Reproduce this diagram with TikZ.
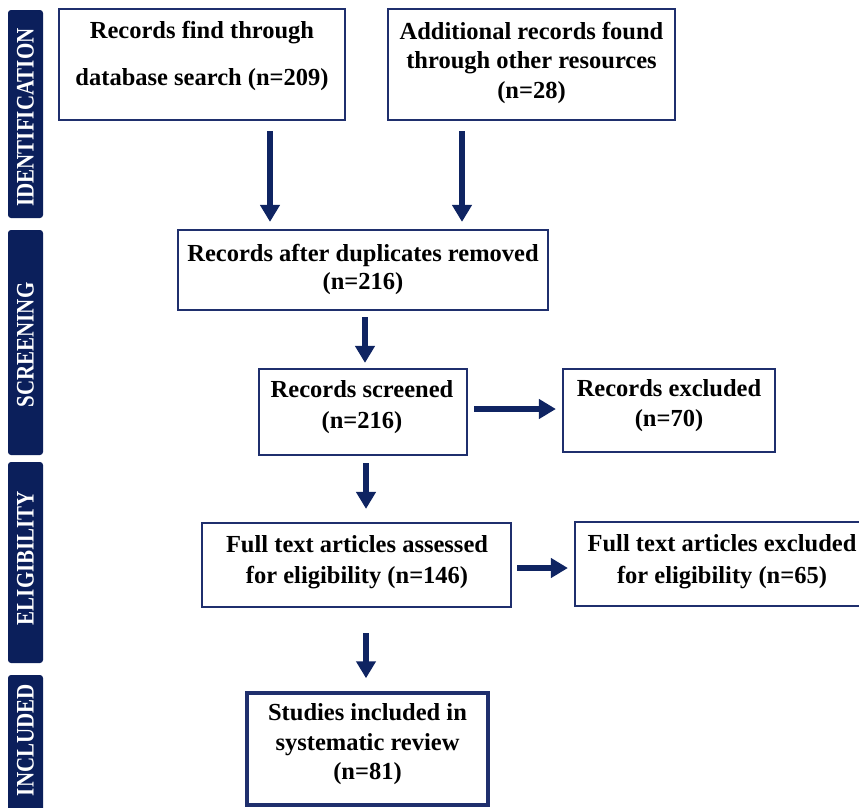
\documentclass[tikz,border=0pt]{standalone}
\usepackage{fontspec}
\setmainfont{Liberation Serif}
\usetikzlibrary{arrows.meta}
\definecolor{barblue}{HTML}{0B1F5B}
\definecolor{boxblue}{HTML}{1F2F6D}
\definecolor{arrblue}{HTML}{0F2462}
\begin{document}
\begin{tikzpicture}[x=1pt,y=-1pt,
  box/.style={draw=boxblue, line width=2.2pt, inner sep=0pt},
  bar/.style={fill=barblue, rounded corners=3pt, inner sep=0pt, minimum width=35pt},
  bartext/.style={text=white, font=\fontsize{21}{21}\selectfont\bfseries, rotate=90, inner sep=0pt},
  txt/.style={font=\fontsize{24.5}{30}\selectfont\bfseries, align=center, inner sep=0pt},
  arr/.style={draw=arrblue, line width=6.5pt, -{Triangle[length=17pt,width=19pt]}}]
\useasboundingbox (0,0) rectangle (859,807);
\clip (0,0) rectangle (859,807);
% side bars
\node[bar, minimum height=208pt] (p1) at (25.5,114) {};
\node[bartext] (l1) at (25.5,117.5) {\scalebox{1}[1.2]{IDENTIFICATION}};
\node[bar, minimum height=225pt] (p2) at (25.5,342.5) {};
\node[bartext] (l2) at (25.5,345) {\scalebox{1}[1.2]{SCREENING}};
\node[bar, minimum height=201pt] (p3) at (25.5,562.5) {};
\node[bartext] (l3) at (25.5,558) {\scalebox{1}[1.2]{ELIGIBILITY}};
\node[bar, minimum height=150pt] (p4) at (25.5,750) {};
\node[bartext] (l4) at (25.5,740) {\scalebox{1}[1.2]{INCLUDED}};
% boxes
\node[box, minimum width=286pt, minimum height=111pt] (b1) at (202,64.5) {};
\node[txt, font=\fontsize{24.5}{47}\selectfont\bfseries] (t1) at (202,55.5) {Records find through\\database search (n=209)};
\node[box, minimum width=287pt, minimum height=111pt] (b2) at (531.5,64.5) {};
\node[txt, font=\fontsize{24.5}{29.5}\selectfont\bfseries] (t2) at (531.5,62.5) {Additional records found\\through other resources\\(n=28)};
\node[box, minimum width=370pt, minimum height=80pt] (b3) at (363,270) {};
\node[txt, font=\fontsize{24.5}{28}\selectfont\bfseries] (t3) at (363,269.5) {Records after duplicates removed\\(n=216)};
\node[box, minimum width=208pt, minimum height=86pt] (b4) at (363,412) {};
\node[txt, font=\fontsize{24.5}{31}\selectfont\bfseries] (t4) at (362,407.5) {Records screened\\(n=216)};
\node[box, minimum width=212pt, minimum height=83pt] (b5) at (669,410.5) {};
\node[txt, font=\fontsize{24.5}{30}\selectfont\bfseries] (t5) at (669,406) {Records excluded\\(n=70)};
\node[box, minimum width=309pt, minimum height=84pt] (b6) at (356.5,565) {};
\node[txt, font=\fontsize{24.5}{31}\selectfont\bfseries] (t6) at (357,562.5) {Full text articles assessed\\for eligibility (n=146)};
\node[box, minimum width=294pt, minimum height=84pt] (b7) at (722,564) {};
\node[txt, font=\fontsize{24.5}{32}\selectfont\bfseries] (t7) at (722,562) {Full text articles excluded\\for eligibility (n=65)};
\node[box, line width=3.5pt, minimum width=241pt, minimum height=112pt] (b8) at (367.5,749) {};
\node[txt, font=\fontsize{24.5}{29.5}\selectfont\bfseries] (t8) at (367.5,744.5) {Studies included in\\systematic review\\(n=81)};
% arrow guides
\coordinate (x1) at (270,0);
\coordinate (x2) at (462,0);
\coordinate (x3) at (365,0);
\coordinate (x4) at (366,0);
\coordinate (y4) at (0,409);
\coordinate (y6) at (0,568);
% arrows
\draw[arr, shorten <=10pt, shorten >=7pt] (b1.south -| x1) -- (b3.north -| x1);
\draw[arr, shorten <=10pt, shorten >=7pt] (b2.south -| x2) -- (b3.north -| x2);
\draw[arr, shorten <=6pt, shorten >=5pt] (b3.south -| x3) -- (b4.north -| x3);
\draw[arr, shorten <=6pt, shorten >=6pt] (b4.east |- y4) -- (b5.west |- y4);
\draw[arr, shorten <=7pt, shorten >=13pt] (b4.south -| x4) -- (b6.north -| x4);
\draw[arr, shorten <=5pt, shorten >=6pt] (b6.east |- y6) -- (b7.west |- y6);
\draw[arr, shorten <=25pt, shorten >=13pt] (b6.south -| x4) -- (b8.north -| x4);
\end{tikzpicture}
\end{document}
